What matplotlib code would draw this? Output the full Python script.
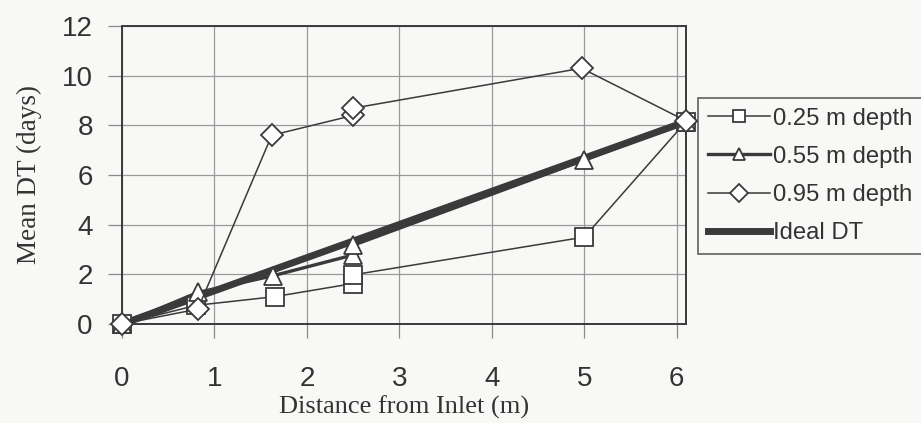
import matplotlib as mpl
mpl.use("Agg")
from matplotlib import pyplot as plt

# distances (m) and mean DT (days)
x_025 = [0, 0.8, 1.65, 2.5, 2.5, 5.0, 6.1]
y_025 = [0, 0.75, 1.1, 1.63, 1.98, 3.5, 8.15]

x_055 = [0, 0.82, 1.63, 2.5, 2.5, 5.0, 6.1]
y_055 = [0, 1.27, 1.94, 2.78, 3.17, 6.6, 8.15]

x_095 = [0, 0.82, 1.62, 2.5, 2.5, 4.97, 6.1]
y_095 = [0, 0.6, 7.6, 8.4, 8.69, 10.3, 8.18]

x_ideal = [0, 6.1]
y_ideal = [0, 8.15]

labels = ["0.25 m depth", "0.55 m depth", "0.95 m depth", "Ideal DT"]

ink = "#3a3a3a"
bg = "#f8f8f6"
sans = ["Liberation Sans", "DejaVu Sans"]
serif = ["Liberation Serif", "DejaVu Serif"]

fig = plt.figure(figsize=(9.21, 4.23), dpi=100, facecolor=bg)
ax = fig.add_axes([122 / 921, 1 - 324 / 423, 564 / 921, 298 / 423])
ax.set_facecolor(bg)

mk = dict(markerfacecolor="white", markeredgecolor=ink, markeredgewidth=1.3, clip_on=False)
ax.plot(x_ideal, y_ideal, color=ink, lw=5, label=labels[3], zorder=2, clip_on=False)
ax.plot(x_025, y_025, color=ink, lw=1.1, marker="s", ms=13, label=labels[0], zorder=3, **mk)
ax.plot(x_055, y_055, color=ink, lw=2.4, marker="^", ms=13, label=labels[1], zorder=4, **mk)
ax.plot(x_095, y_095, color=ink, lw=1.1, marker="D", ms=11, label=labels[2], zorder=5, **mk)

ax.set_xlim(0, 6.1)
ax.set_ylim(0, 12)
ax.set_xticks(range(0, 7))
ax.set_yticks(range(0, 13, 2))
ax.grid(True, color="#9a9a9a", lw=0.9)
ax.set_axisbelow(True)
for s in ax.spines.values():
    s.set_color(ink)
    s.set_linewidth(1.4)
ax.tick_params(direction="out", length=10, width=0.9, color="#8a8a8a",
               labelsize=20, labelcolor="#333333")
ax.tick_params(axis="y", pad=11)
ax.tick_params(axis="x", pad=20)
for t in ax.get_xticklabels() + ax.get_yticklabels():
    t.set_family(sans)

ax.set_xlabel("Distance from Inlet (m)", family=serif, fontsize=19, color="#333333", labelpad=3)
ax.set_ylabel("Mean DT (days)", family=serif, fontsize=19.5, color="#333333", labelpad=14)

h, l = ax.get_legend_handles_labels()
order = [1, 2, 3, 0]
leg = fig.legend([h[i] for i in order], [l[i] for i in order],
                 loc="upper left", bbox_to_anchor=(698 / 921, 1 - 98 / 423),
                 frameon=True, fancybox=False, edgecolor=ink, facecolor=bg,
                 prop={"family": sans, "size": 17.2}, handlelength=2.6, handletextpad=0.15,
                 labelspacing=0.68, borderpad=0.4, borderaxespad=0, labelcolor="#333333")
leg.get_frame().set_linewidth(1.2)
for lh in leg.legend_handles:
    lh.set_markersize(9)

fig.savefig("out.png", dpi=100, facecolor=fig.get_facecolor())
